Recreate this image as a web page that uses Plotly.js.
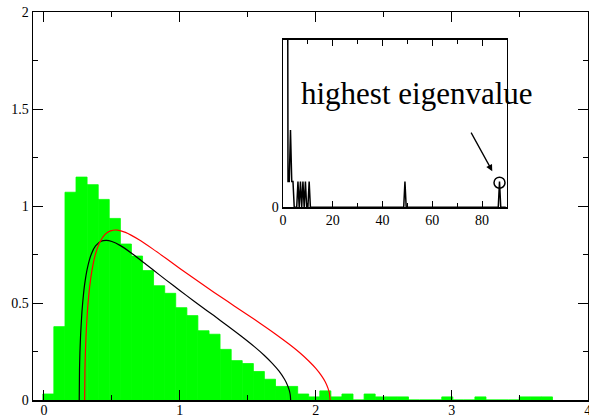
<!DOCTYPE html>
<html>
<head>
<meta charset="utf-8">
<script src="https://cdn.plot.ly/plotly-3.0.1.min.js"></script>
<style>
html,body{margin:0;padding:0;background:#fff;}
#chart{width:589px;height:418px;}
</style>
</head>
<body>
<div id="chart"></div>
<script>
// ---- histogram (bin centres / densities) ----
var binCenters = [0.033, 0.114, 0.196, 0.277, 0.359, 0.440, 0.522, 0.603, 0.685, 0.766,
  0.848, 0.929, 1.011, 1.092, 1.174, 1.255, 1.337, 1.418, 1.500, 1.581,
  1.663, 1.744, 1.826, 1.907, 1.989, 2.070, 2.152, 2.233, 2.315, 2.396,
  2.478, 2.559, 2.641, 2.722, 2.804, 2.885, 2.967, 3.048, 3.130, 3.211,
  3.293, 3.374, 3.456, 3.537, 3.619, 3.700];
var binHeights = [0.031, 0.378, 1.071, 1.149, 1.110, 1.034, 0.936, 0.804, 0.742, 0.667,
  0.589, 0.550, 0.476, 0.435, 0.357, 0.339, 0.261, 0.203, 0.188, 0.147,
  0.107, 0.070, 0.070, 0.031, 0.016, 0.047, 0.016, 0.031, 0.000, 0.031,
  0.016, 0.016, 0.016, 0.000, 0.000, 0.000, 0.016, 0.000, 0.000, 0.016,
  0.000, 0.000, 0.000, 0.016, 0.016, 0.016];
var binWidth = 0.0815;

// ---- theoretical curves (black and red) ----
var blackX = [0.260, 0.262, 0.265, 0.270, 0.280, 0.290, 0.300, 0.320, 0.350, 0.380, 0.420, 0.460,
  0.500, 0.560, 0.650, 0.750, 0.850, 0.950, 1.050, 1.150, 1.250, 1.350, 1.450, 1.550,
  1.620, 1.680, 1.730, 1.770, 1.790, 1.805, 1.812, 1.815];
var blackY = [0.000, 0.155, 0.242, 0.335, 0.455, 0.536, 0.597, 0.680, 0.754, 0.794, 0.818, 0.823,
  0.817, 0.797, 0.754, 0.700, 0.645, 0.591, 0.538, 0.486, 0.435, 0.383, 0.330, 0.274,
  0.231, 0.189, 0.149, 0.107, 0.079, 0.050, 0.027, 0.000];
var redX = [0.300, 0.302, 0.305, 0.310, 0.320, 0.330, 0.345, 0.360, 0.380, 0.410, 0.450, 0.490,
  0.540, 0.600, 0.700, 0.800, 0.900, 1.000, 1.100, 1.200, 1.300, 1.400, 1.500, 1.600,
  1.700, 1.800, 1.880, 1.950, 2.000, 2.040, 2.070, 2.090, 2.100, 2.105];
var redY = [0.000, 0.153, 0.240, 0.333, 0.455, 0.539, 0.629, 0.693, 0.754, 0.812, 0.854, 0.872,
  0.876, 0.864, 0.826, 0.779, 0.729, 0.678, 0.629, 0.580, 0.532, 0.485, 0.438, 0.391,
  0.342, 0.290, 0.245, 0.200, 0.163, 0.127, 0.093, 0.060, 0.035, 0.000];

// ---- inset: full eigenvalue spectrum ----
var insetX = [1.5, 2.0, 2.5, 3.0, 3.5, 4.0, 4.5, 5.0, 5.5, 6.0, 6.5, 7.0, 7.5, 8.0, 8.5, 9.0,
  9.5, 10.0, 10.5, 11.0, 48.5, 49.0, 49.5, 86.5, 87.0, 87.5, 89.5];
var insetY = [30, 1, 1, 3, 1, 1, 0, 0, 0, 1, 0, 1, 0, 1, 0, 1,
  0, 0, 1, 0, 0, 1, 0, 0, 1, 0, 0];
var highestX = [87.0];
var highestY = [0.95];
var insetTickVals = [0, 20, 40, 60, 80];

var serif = 'Liberation Serif, Times New Roman, serif';

var traces = [
  {type: 'bar', x: binCenters, y: binHeights, width: binWidth,
   marker: {color: '#00ff00', line: {width: 0.8, color: '#00ff00'}}, xaxis: 'x', yaxis: 'y', hoverinfo: 'none'},
  {type: 'scatter', mode: 'lines', x: blackX, y: blackY, line: {color: '#000000', width: 1.2, shape: 'spline', smoothing: 0.6},
   xaxis: 'x', yaxis: 'y'},
  {type: 'scatter', mode: 'lines', x: redX, y: redY, line: {color: '#ff0000', width: 1.2, shape: 'spline', smoothing: 0.6},
   xaxis: 'x', yaxis: 'y'},
  {type: 'scatter', mode: 'lines', x: insetX, y: insetY, line: {color: '#000000', width: 1.5},
   xaxis: 'x2', yaxis: 'y2'},
  {type: 'scatter', mode: 'markers', x: highestX, y: highestY,
   marker: {symbol: 'circle-open', size: 11, color: '#000000', line: {width: 1.5, color: '#000000'}},
   xaxis: 'x2', yaxis: 'y2'}
];

var layout = {
  width: 589, height: 418,
  margin: {l: 33, r: 1, t: 12, b: 18, pad: 0},
  paper_bgcolor: '#ffffff', plot_bgcolor: '#ffffff',
  showlegend: false, bargap: 0,
  font: {family: serif, size: 14, color: '#000000'},
  xaxis: {
    domain: [0, 1], range: [-0.08, 4.002], showgrid: false, zeroline: false,
    showline: true, linecolor: '#000', linewidth: 1.5, mirror: 'allticks',
    ticks: 'inside', ticklen: 10, tickwidth: 1, tickcolor: '#000',
    tickvals: [0, 1, 2, 3, 4], ticktext: ['0', '1', '2', '3', '4'],
    ticklabelstandoff: -3, ticklabeloverflow: 'allow',
    minor: {ticks: 'inside', ticklen: 5, tickwidth: 1, tickcolor: '#000', dtick: 0.5, tick0: 0, showgrid: false},
    tickfont: {family: serif, size: 14}
  },
  yaxis: {
    domain: [0, 1], range: [0, 2], showgrid: false, zeroline: false,
    showline: true, linecolor: '#000', linewidth: 1.5, mirror: 'allticks',
    ticks: 'inside', ticklen: 10, tickwidth: 1, tickcolor: '#000',
    tickvals: [0, 0.5, 1, 1.5, 2], ticktext: ['0', '0.5', '1', '1.5', '2'],
    ticklabeloverflow: 'allow',
    minor: {ticks: 'inside', ticklen: 5, tickwidth: 1, tickcolor: '#000', dtick: 0.25, tick0: 0, showgrid: false},
    tickfont: {family: serif, size: 14}
  },
  xaxis2: {
    domain: [0.4505, 0.854], anchor: 'y2', range: [0, 90], showgrid: false, zeroline: false,
    showline: true, linecolor: '#000', linewidth: 1.5, mirror: 'allticks',
    ticks: 'inside', ticklen: 6, tickwidth: 1, tickcolor: '#000',
    tickvals: insetTickVals, ticktext: ['0', '20', '40', '60', '80'],
    minor: {ticks: 'inside', ticklen: 4, tickwidth: 1, tickcolor: '#000', dtick: 10, tick0: 0, showgrid: false},
    tickfont: {family: serif, size: 14}
  },
  yaxis2: {
    domain: [0.497, 0.928], anchor: 'x2', range: [0, 6.5], showgrid: false, zeroline: false,
    showline: true, linecolor: '#000', linewidth: 1.5, mirror: true,
    ticks: '', tickvals: [0], ticktext: ['0'],
    tickfont: {family: serif, size: 14}
  },
  annotations: [
    {xref: 'paper', yref: 'paper', x: 0.4785, y: 0.79, xanchor: 'left', yanchor: 'middle',
     text: 'highest eigenvalue', showarrow: false, font: {family: serif, size: 31, color: '#000'}},
    {xref: 'x2', yref: 'y2', x: 84.1, y: 1.40, text: '', showarrow: true,
     axref: 'pixel', ayref: 'pixel', ax: -22, ay: -40,
     arrowhead: 2, arrowsize: 1, arrowwidth: 1.3, arrowcolor: '#000'}
  ]
};

Plotly.newPlot('chart', traces, layout, {staticPlot: true, displayModeBar: false});
</script>
</body>
</html>
